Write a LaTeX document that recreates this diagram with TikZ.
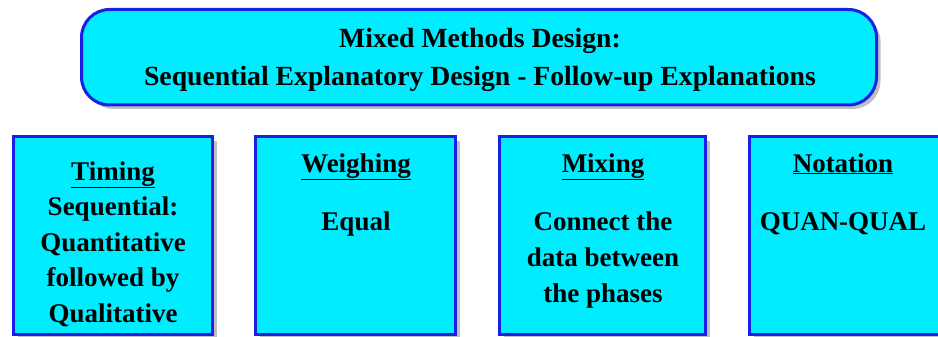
\documentclass[tikz,border=0pt]{standalone}
\usepackage{fontspec}
\setmainfont{Liberation Serif}[BoldFont={Liberation Serif Bold}]
\usetikzlibrary{shadows}
\definecolor{boxfill}{RGB}{0,236,255}
\definecolor{boxline}{RGB}{24,32,230}
\begin{document}
\begin{tikzpicture}[x=1pt,y=-1pt]
\useasboundingbox (0,0) rectangle (938,337);
\tikzset{
  panel/.style={draw=boxline, line width=3pt, fill=boxfill,
    drop shadow={shadow xshift=4pt, shadow yshift=-4pt, fill=black, opacity=0.25}},
  txt/.style={font=\bfseries\fontsize{27}{35.5}\selectfont, align=center, inner sep=0pt},
  line/.style={txt, anchor=base}
}
% title box
\path[panel, rounded corners=28pt] (81.5,9.5) rectangle (876.5,105);
\node[txt, anchor=north, font=\bfseries\fontsize{27.7}{38}\selectfont] (title) at (480,20.4)
  {\strut Mixed Methods Design:\\\strut Sequential Explanatory Design - Follow-up Explanations};
% four boxes
\path[panel] (13.5,136.5) rectangle (212.5,334);
\path[panel] (255.5,136.5) rectangle (455.5,334);
\path[panel] (499.5,136.5) rectangle (705.5,334);
\path[panel] (749.5,136.5) rectangle (955,334);
\node[txt, anchor=north] (timing) at (113,155.15)
  {\strut\underline{Timing}\\\strut Sequential:\\\strut Quantitative\\\strut followed by\\\strut Qualitative};
\node[line] (weighing) at (356,172) {\underline{Weighing}};
\node[line] (equal) at (356,230) {Equal};
\node[line] (mixing) at (603,172) {\underline{Mixing}};
\node[txt, anchor=north, font=\bfseries\fontsize{27}{36}\selectfont] (connect) at (603,204.8)
  {\strut Connect the\\\strut data between\\\strut the phases};
\node[line] (notation) at (843,172) {\underline{Notation}};
\node[line] (quanqual) at (843,230) {QUAN-QUAL};
\end{tikzpicture}
\end{document}
